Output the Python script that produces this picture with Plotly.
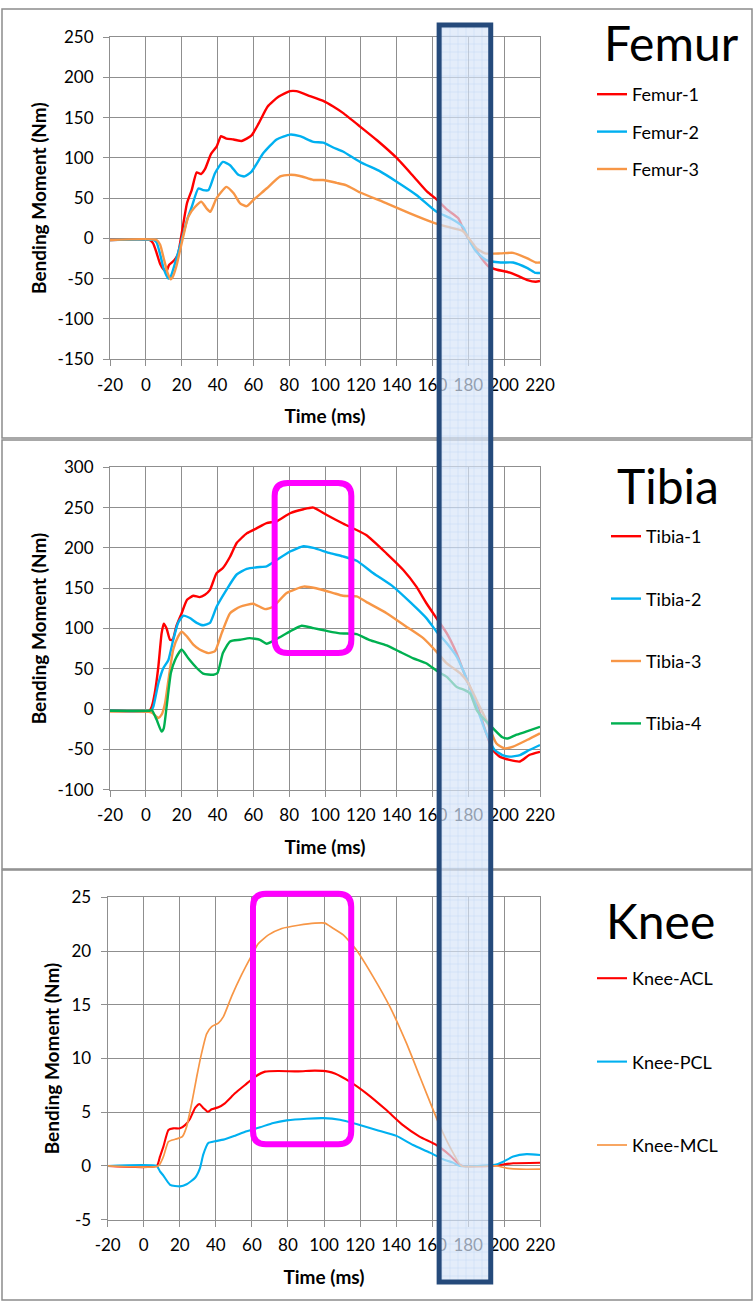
import plotly.graph_objects as go

# ---------------- data (time in ms, bending moment in Nm) ----------------
FEMUR1_T = [-20, 2, 4, 6, 8, 10, 11.5, 13, 16, 18, 20, 23, 25.6, 28.4, 30.8, 33, 36.4, 39.5, 42, 45, 49,
            53.5, 59, 63, 68, 74, 80.5, 84, 91.6, 99, 104.6, 110, 119.6, 129, 140, 149.4, 157, 162.3, 168,
            174.4, 177, 180, 183, 187.5, 191.3, 196, 201.5, 207, 213, 217.6, 220]
FEMUR1 = [-2, -2, -6, -18, -32, -39, -41, -33, -27, -19, 6, 44, 60, 82, 80, 86, 105, 114, 127, 124, 123,
          121, 128, 143, 164, 176, 183, 183, 177, 171, 164, 156, 139, 122, 100, 77, 58, 48.5, 36,
          25, 12.4, 0, -10, -25, -35, -39, -41.5, -46, -52, -54, -53]

FEMUR2_T = [-20, 4, 6, 8, 10, 12.6, 14, 16.3, 20, 23, 25.6, 29.3, 32, 35, 38.6, 43, 47, 51.6, 55, 59,
            65.6, 73, 80.5, 86, 93.5, 99, 104.6, 110, 119.6, 131, 140, 151, 162.3, 170, 177, 180, 184.6,
            190, 198, 205, 213, 217.6, 220]
FEMUR2 = [-2, -2, -5, -20, -38, -50, -47, -31, -2, 23, 39, 62, 60, 60, 81, 95, 91, 79, 77, 83,
          106, 123, 129, 127, 120, 119, 113, 108, 95, 83, 70.5, 54, 33, 25, 14.5, 0, -17,
          -27, -30, -30, -37, -43, -43]

FEMUR3_T = [-20, 6, 8, 10, 12, 13.9, 15, 17, 20, 23.7, 27.4, 31, 34, 36, 39.5, 45, 49, 52.6, 56.3, 60,
            67.4, 75, 80.5, 86, 93.5, 99, 106.5, 112, 119.6, 134.4, 147.4, 160.5, 168, 177, 181, 184.6,
            189.3, 198, 205, 213, 217.6, 220]
FEMUR3 = [-2, -2, -8, -25, -42, -51, -48, -35, -6, 27, 39, 45.6, 37, 33, 50, 64, 56, 43.6, 40, 47.7,
          62, 77, 79, 77.6, 72.6, 72.6, 69, 66, 57, 43.6, 31, 19.5, 14.5, 9, -2, -12.4,
          -18.7, -18.7, -18, -25, -30, -30]

TIBIA1_T = [-20, 2, 3.3, 5, 7, 8.8, 10, 11.6, 13.5, 15, 17, 20, 23, 26.5, 30, 33, 35.8, 39.5, 43, 47,
            50.7, 56.3, 62, 67.4, 73, 80.5, 88, 93.5, 101, 110.3, 123, 134.4, 143.7, 151, 156.7, 162.3,
            168, 173.5, 177, 180, 184.6, 190, 193.7, 197.5, 203, 208.8, 214, 220]
TIBIA1 = [-2, -2, 3, 20, 53, 94, 106, 100, 86, 86, 102.6, 119, 135.6, 140.6, 139, 142, 148, 168.7, 175, 189,
          206, 218, 224.5, 230.8, 233, 243, 248, 250, 240.8, 230, 216, 193, 172.6, 152, 131, 112.6,
          94, 69, 48.5, 32, 7, -30, -50.8, -59, -63, -65, -57, -53]

TIBIA2_T = [-20, 3, 4.2, 7, 9.8, 12.6, 15.3, 18, 21, 24.6, 28.4, 32, 35.8, 39.5, 45, 50.7, 56.3, 62, 67.4,
            73, 80.5, 88, 93.5, 102.8, 110, 117.7, 127, 138, 147.4, 156.7, 162.3, 168, 173.5, 177, 180,
            184.6, 190, 194.7, 199, 203, 208.8, 214, 220]
TIBIA2 = [-2, -2, 3, 32, 51, 61, 86, 107, 116, 113, 107, 104, 107, 127, 148, 167, 174, 176, 177,
          185, 195.6, 202, 200, 193.5, 189.5, 184, 168.5, 152, 133, 112.6, 96, 81.6, 65, 48.5, 32,
          3, -30, -50.8, -57, -59, -57, -50.8, -44.5]

TIBIA3_T = [-20, 3, 7, 8.8, 10.7, 12.6, 15.3, 18, 20, 23, 26.5, 30, 35, 38.6, 42.3, 47, 52.6, 60, 66.5,
            71, 78.6, 88, 95, 104.7, 110, 117.7, 123, 134.4, 145.6, 155, 162.3, 168, 175.4, 180, 184.6,
            190, 195.6, 200, 205, 213, 220]
TIBIA3 = [-3, -4, -11, -7, 7, 36, 74, 90, 96, 90, 80, 74, 69.5, 72, 94, 119, 127, 130.7, 124,
          127, 144, 152, 150, 144, 140.6, 139.8, 133, 119, 102, 87.7, 71, 56.6, 44.5, 32, 11,
          -13.6, -42.4, -48.6, -46.5, -38, -30]

TIBIA4_T = [-20, 2, 3.3, 6, 8.8, 10, 11.6, 14, 16.3, 20, 23.7, 28.4, 32, 37.7, 40, 43, 47, 52.6, 58, 63.7,
            67.4, 73, 80.5, 87, 93.5, 101, 108.4, 117.7, 125, 134.4, 141.8, 149.3, 156.7, 162.3, 168,
            173.5, 178, 181, 184.6, 188.4, 193.7, 199, 202, 206.6, 212.2, 220]
TIBIA4 = [-2, -2, -1, -13, -28, -24, 3, 45, 61, 74, 63, 51, 44, 42.6, 44.7, 69.5, 84, 86, 88, 86,
          81, 87, 96.4, 103.4, 100.5, 97, 94, 93, 85.6, 79, 71, 63, 56.6, 47.6, 40,
          27.5, 23.6, 19.4, -1, -11.5, -23.7, -35, -36.4, -32, -28, -22]

KNEE_ACL_T = [-20, 7.2, 9, 10.9, 13.7, 16.4, 20.1, 22.9, 25.7, 28.5, 30.9, 33, 35.5, 37.7, 41.4, 45, 50.6,
              56.2, 61.7, 67.3, 74.7, 85.8, 95, 102.4, 106, 114.3, 123.5, 134.6, 143.8, 153, 162.4,
              169.8, 175.3, 177, 192, 197.6, 205, 220]
KNEE_ACL = [0, 0, 0.87, 1.8, 3.35, 3.5, 3.5, 3.8, 4.4, 5.4, 5.77, 5.4, 5.05, 5.27, 5.46, 5.83, 6.76,
            7.54, 8.3, 8.78, 8.84, 8.8, 8.87, 8.78, 8.6, 7.85, 6.76, 5.2, 3.8, 2.73, 1.95,
            1.0, 0.1, 0, 0, 0.1, 0.25, 0.3]

KNEE_PCL_T = [-20, 7.2, 9, 10.9, 14.6, 20.1, 23.8, 28.5, 31.2, 33, 35.8, 39.5, 44.2, 49.7, 57.1, 64.5,
              71.9, 79.3, 90.4, 99.6, 108.8, 118, 129.1, 140.2, 149.4, 158.7, 166, 171.6, 175.3, 194.8,
              199.4, 205, 212.4, 220]
KNEE_PCL = [0, 0, -0.5, -0.9, -1.75, -1.9, -1.7, -1.1, -0.2, 1.05, 2.14, 2.3, 2.45, 2.76, 3.23, 3.6,
            4.0, 4.24, 4.4, 4.45, 4.3, 3.9, 3.35, 2.8, 1.95, 1.24, 0.62, 0.31, 0, 0.1,
            0.4, 0.87, 1.1, 1.02]

KNEE_MCL_T = [-20, 8.1, 10.9, 13.7, 17.4, 21.4, 23.8, 26.6, 29.4, 32.1, 34.9, 37.7, 41.4, 44.2, 48.8,
              54.3, 59.9, 63.6, 69.2, 76.6, 85.8, 95, 100.6, 103.3, 110.7, 118, 127.3, 136.6, 145.8,
              153.2, 160.6, 166.2, 171.7, 176.3, 195.7, 201.3, 208.7, 220]
KNEE_MCL = [0, 0, 0.87, 2.26, 2.48, 2.73, 3.66, 5.83, 8.3, 10.5, 12.3, 12.97, 13.3, 13.9, 15.8,
            17.8, 19.6, 20.7, 21.5, 22.1, 22.4, 22.6, 22.6, 22.3, 21.5, 20.1, 17.6, 14.8, 11.4,
            8.3, 5.2, 3.0, 1.2, 0, 0, -0.2, -0.3, -0.3]

X_TICKS = [-20, 0, 20, 40, 60, 80, 100, 120, 140, 160, 180, 200, 220]
FEMUR_Y_TICKS = [-150, -100, -50, 0, 50, 100, 150, 200, 250]
TIBIA_Y_TICKS = [-100, -50, 0, 50, 100, 150, 200, 250, 300]
KNEE_Y_TICKS = [-5, 0, 5, 10, 15, 20, 25]

X_TITLE = "Time (ms)"
Y_TITLE = "Bending Moment (Nm)"

# highlighted windows (ms / Nm)
BAND_MS = (163.7, 192.5)
TIBIA_BOX = (71.9, 114.7, 69.6, 280.5)
KNEE_BOX = (60.6, 115.1, 2.02, 25.33)

RED, BLUE, ORANGE, GREEN = "#FF0000", "#00B0F0", "#F79646", "#00B050"

# ---------------- layout geometry ----------------
W, H = 753, 1304
FONT = "Lato"


def dom_x(left, right):
    return [left / W, right / W]


def dom_y(top, bottom):
    return [1 - bottom / H, 1 - top / H]


XD12 = dom_x(110, 540)
XD3 = dom_x(107.7, 540.3)
YD1 = dom_y(37.3, 359)
YD2 = dom_y(467.3, 789.7)
YD3 = dom_y(897.3, 1219.7)

fig = go.Figure()


def add_line(t, v, name, color, xa, ya, legend, width=2.4):
    fig.add_trace(go.Scatter(
        x=t, y=v, name=name, mode="lines",
        line=dict(color=color, width=width, shape="spline", smoothing=0.5),
        xaxis=xa, yaxis=ya, legend=legend, legendgroup=name,
        hoverinfo="skip",
    ))


add_line(FEMUR1_T, FEMUR1, "Femur-1", RED, "x", "y", "legend")
add_line(FEMUR2_T, FEMUR2, "Femur-2", BLUE, "x", "y", "legend")
add_line(FEMUR3_T, FEMUR3, "Femur-3", ORANGE, "x", "y", "legend")

add_line(TIBIA1_T, TIBIA1, "Tibia-1", RED, "x2", "y2", "legend2")
add_line(TIBIA2_T, TIBIA2, "Tibia-2", BLUE, "x2", "y2", "legend2")
add_line(TIBIA3_T, TIBIA3, "Tibia-3", ORANGE, "x2", "y2", "legend2")
add_line(TIBIA4_T, TIBIA4, "Tibia-4", GREEN, "x2", "y2", "legend2")

add_line(KNEE_ACL_T, KNEE_ACL, "Knee-ACL", RED, "x3", "y3", "legend3", 2.1)
add_line(KNEE_PCL_T, KNEE_PCL, "Knee-PCL", BLUE, "x3", "y3", "legend3", 2.1)
add_line(KNEE_MCL_T, KNEE_MCL, "Knee-MCL", ORANGE, "x3", "y3", "legend3", 1.7)

# translucent hatched band across all panels (overlay axes spanning the page height)
fig.add_trace(go.Scatter(
    x=[BAND_MS[0], BAND_MS[1], BAND_MS[1], BAND_MS[0], BAND_MS[0]],
    y=[1 - 25 / H, 1 - 25 / H, 1 - 1282 / H, 1 - 1282 / H, 1 - 25 / H],
    mode="lines", line=dict(width=0), fill="toself",
    fillcolor="rgba(210,225,246,0.7)",
    fillpattern=dict(shape="+", size=8, solidity=0.14,
                     fgcolor="rgba(150,188,232,0.75)", bgcolor="rgba(214,228,247,0.68)"),
    xaxis="x4", yaxis="y4", showlegend=False, hoverinfo="skip",
))

GRID = "#8f8f8f"
tickfont = dict(family=FONT, size=17, color="#000000")
titlefont = dict(family=FONT, size=19, color="#000000", weight="bold")


def xaxis(domain, anchor):
    return dict(
        domain=domain, anchor=anchor, range=[-20, 220],
        tickmode="array", tickvals=X_TICKS, ticktext=[str(v) for v in X_TICKS],
        showgrid=True, gridcolor=GRID, gridwidth=1.2,
        showline=True, linecolor=GRID, linewidth=1.2, mirror=True,
        ticks="outside", ticklen=6, tickcolor=GRID, tickwidth=1.2,
        tickfont=tickfont, ticklabelstandoff=4, zeroline=False, fixedrange=True,
        title=dict(text=X_TITLE, font=titlefont, standoff=16),
        automargin=False,
    )


def yaxis(domain, anchor, ticks, standoff):
    return dict(
        domain=domain, anchor=anchor, range=[ticks[0], ticks[-1]],
        tickmode="array", tickvals=ticks, ticktext=[str(v) for v in ticks],
        showgrid=True, gridcolor=GRID, gridwidth=1.2,
        showline=True, linecolor=GRID, linewidth=1.2, mirror=True,
        ticks="outside", ticklen=6, tickcolor=GRID, tickwidth=1.2,
        tickfont=tickfont, ticklabelstandoff=6, zeroline=False, fixedrange=True,
        title=dict(text=Y_TITLE, font=titlefont, standoff=standoff),
        automargin=False,
    )


legend_common = dict(
    font=dict(family=FONT, size=18, color="#000000"),
    bgcolor="rgba(0,0,0,0)", xanchor="left", yanchor="top",
    traceorder="grouped", itemwidth=30,
)

fig.update_layout(
    width=W, height=H,
    margin=dict(l=0, r=0, t=0, b=0),
    paper_bgcolor="white", plot_bgcolor="rgba(0,0,0,0)",
    font=dict(family=FONT),
    xaxis=xaxis(XD12, "y"),
    yaxis=yaxis(YD1, "x", FEMUR_Y_TICKS, 5),
    xaxis2=xaxis(XD12, "y2"),
    yaxis2=yaxis(YD2, "x2", TIBIA_Y_TICKS, 5),
    xaxis3=xaxis(XD3, "y3"),
    yaxis3=yaxis(YD3, "x3", KNEE_Y_TICKS, 6),
    xaxis4=dict(domain=XD12, range=[-20, 220], visible=False, fixedrange=True, anchor="y4"),
    yaxis4=dict(domain=[0, 1], range=[0, 1], visible=False, fixedrange=True, anchor="x4"),
    legend=dict(legend_common, x=592 / W, y=1 - 76 / H, tracegroupgap=11),
    legend2=dict(legend_common, x=606 / W, y=1 - 518 / H, tracegroupgap=36),
    legend3=dict(legend_common, x=592 / W, y=1 - 960 / H, tracegroupgap=57),
    showlegend=True,
)

# panel frames
for top, bottom in [(9, 438), (440, 869), (870, 1300)]:
    fig.add_shape(type="rect", xref="paper", yref="paper",
                  x0=2 / W, x1=752 / W, y0=1 - bottom / H, y1=1 - top / H,
                  line=dict(color="#8c8c8c", width=1.5), layer="below")

# panel headings
for name, cx, cy in [("Femur", 671, 43), ("Tibia", 668, 486), ("Knee", 660, 920)]:
    fig.add_annotation(text=name, xref="paper", yref="paper", x=cx / W, y=1 - cy / H,
                       showarrow=False, xanchor="center", yanchor="middle",
                       font=dict(family=FONT, size=48, color="#000000"))


def rounded_path(x0, x1, y0, y1, rx, ry):
    return (f"M{x0 + rx},{y1} L{x1 - rx},{y1} Q{x1},{y1} {x1},{y1 - ry} "
            f"L{x1},{y0 + ry} Q{x1},{y0} {x1 - rx},{y0} L{x0 + rx},{y0} "
            f"Q{x0},{y0} {x0},{y0 + ry} L{x0},{y1 - ry} Q{x0},{y1} {x0 + rx},{y1} Z")


def to_paper_y(v, domain, rng):
    return domain[0] + (v - rng[0]) / (rng[1] - rng[0]) * (domain[1] - domain[0])


# magenta highlight boxes
tx0, tx1, ty0, ty1 = TIBIA_BOX
fig.add_shape(type="path", xref="x2", yref="paper", layer="above",
              path=rounded_path(tx0, tx1,
                                to_paper_y(ty0, YD2, (-100, 300)), to_paper_y(ty1, YD2, (-100, 300)),
                                7.3, 13 / H),
              line=dict(color="#FF00FF", width=6))
kx0, kx1, ky0, ky1 = KNEE_BOX
fig.add_shape(type="path", xref="x3", yref="paper", layer="above",
              path=rounded_path(kx0, kx1,
                                to_paper_y(ky0, YD3, (-5, 25)), to_paper_y(ky1, YD3, (-5, 25)),
                                7.2, 13 / H),
              line=dict(color="#FF00FF", width=6))

# band outline
fig.add_shape(type="rect", xref="x", yref="paper", layer="above",
              x0=BAND_MS[0], x1=BAND_MS[1], y0=1 - 1282 / H, y1=1 - 25 / H,
              line=dict(color="#254A7B", width=5))

fig.write_html("out.html")
